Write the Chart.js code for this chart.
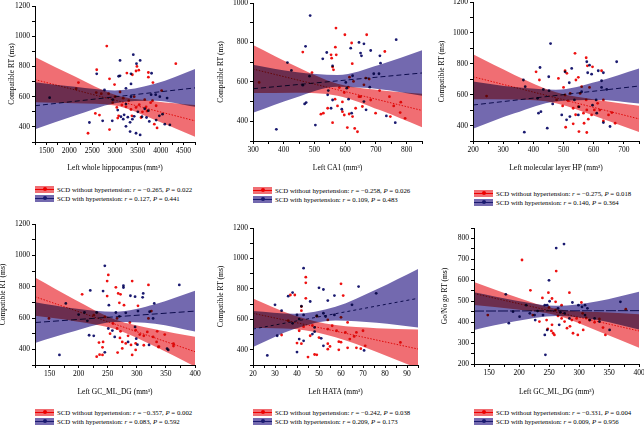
<!DOCTYPE html>
<html lang="en">
<head>
<meta charset="UTF-8">
<title>SCD subfield volume vs RT</title>
<script src="https://cdn.jsdelivr.net/npm/chart.js"></script>
<style>
  html, body { margin: 0; padding: 0; background: #fff; }
  body { width: 644px; height: 425px; position: relative; overflow: hidden; font-family: 'Liberation Serif', 'Times New Roman', serif; }
  canvas { position: absolute; }
  .legend { position: absolute; font-size: 6.8px; color: #000; white-space: nowrap; }
  .row { display: flex; align-items: center; height: 9px; }
  .sw { position: relative; display: inline-block; width: 19px; height: 7px; margin-right: 3px; }
  .sw.red { background: rgb(240, 110, 115); }
  .sw.blue { background: rgb(115, 105, 175); }
  .sw s { position: absolute; left: 0; right: 0; top: 3px; height: 1px; }
  .sw u { position: absolute; left: 7.5px; top: 1.5px; width: 4px; height: 4px; border-radius: 50%; }
  .sw.red s, .sw.red u { background: #e00; }
  .sw.blue s, .sw.blue u { background: #1a1a70; }
</style>
</head>
<body>
<script>
// ---- panel 1: left whole hippocampus vs compatible RT
const p1Red = [[2820,935],[4330,818],[2600,778],[3480,800],[3520,775],[3260,756],[2880,718],[3730,760],[3730,729],[3830,693],[2200,693],[2150,653],[2590,627],[2860,620],[2990,680],[3110,631],[4020,640],[3820,573],[3460,529],[3240,533],[3040,529],[3080,473],[3060,458],[2570,489],[2660,478],[2880,382],[2410,358],[3370,473],[3530,547],[3680,533],[3570,462],[3860,418],[3920,393],[3300,573],[3180,590],[2950,560],[3420,600],[3650,580],[3780,560],[3900,540],[3350,515],[3600,500],[3700,505],[3150,545],[3000,600],[2700,620],[3460,770],[3380,745]];
const p1Blue = [[1570,593],[2600,751],[3110,840],[3400,878],[3550,840],[3350,751],[3110,738],[3080,735],[3350,684],[3240,655],[2770,644],[3800,755],[3470,818],[3350,600],[3240,551],[2950,580],[3060,511],[3130,467],[3180,451],[3240,404],[3330,369],[3460,358],[3550,347],[3280,464],[3380,451],[3590,467],[3690,462],[3750,436],[3900,445],[3970,473],[4040,484],[4090,418],[4200,413],[3790,613],[3890,613],[3980,600],[4140,591],[3730,507],[3500,500],[3650,520],[2940,440],[2730,440],[2440,429],[3200,480],[3330,430],[3420,470]];
const p1BandX = [1250, 2125, 3000, 3875, 4750];
const p1RedHi = [863, 733, 613, 570, 545];
const p1RedLo = [563, 557, 541, 446, 335];
const p1BlueHi = [696, 665, 641, 685, 783];
const p1BlueLo = [384, 475, 557, 573, 533];
const p1RedLine = [713, 440];
const p1BlueLine = [540, 658];
const p1XLabels = [1500, 2000, 2500, 3000, 3500, 4000, 4500];
const p1Stats = ['\u22120.265', '0.022', '0.127', '0.441'];

// ---- panel 2: left CA1
const p2Red = [[320,597],[462,751],[492,647],[554,737],[568,776],[556,720],[571,737],[570,873],[599,839],[621,797],[623,692],[559,675],[562,661],[670,839],[729,754],[712,556],[744,525],[758,478],[779,444],[795,415],[747,424],[781,497],[667,619],[678,614],[661,585],[650,525],[656,475],[634,466],[624,424],[613,437],[607,368],[631,364],[640,347],[645,525],[683,508],[699,441],[567,512],[581,571],[597,546],[610,573],[591,498],[591,449],[597,432],[543,466],[529,441],[521,436],[559,393],[575,478],[614,624],[627,602]];
const p2Blue = [[486,936],[376,359],[503,381],[471,780],[468,488],[473,495],[484,629],[462,583],[412,698],[425,658],[527,717],[540,749],[559,681],[545,556],[559,508],[589,461],[611,512],[618,771],[645,800],[661,793],[650,746],[653,732],[683,759],[713,732],[715,695],[766,814],[680,573],[693,641],[710,641],[661,500],[668,458],[734,427],[763,393],[621,441],[602,597],[624,631],[605,568],[554,466],[543,534]];
const p2BandX = [300, 437.5, 575, 712.5, 850];
const p2RedHi = [787, 680, 590, 558, 540];
const p2RedLo = [543, 545, 530, 457, 370];
const p2BlueHi = [687, 650, 635, 687, 760];
const p2BlueLo = [443, 520, 575, 563, 530];
const p2RedLine = [665, 455];
const p2BlueLine = [565, 645];
const p2XLabels = [300, 400, 500, 600, 700, 800];
const p2Stats = ['\u22120.258', '0.026', '0.109', '0.483'];

// ---- panel 3: left molecular layer HP
const p3Red = [[245,591],[409,748],[420,695],[505,755],[511,738],[538,868],[575,839],[579,787],[549,712],[541,695],[626,755],[586,647],[560,652],[505,598],[477,566],[497,527],[532,512],[549,522],[566,480],[577,501],[593,469],[613,544],[632,566],[602,501],[649,469],[660,484],[582,441],[568,415],[532,411],[507,389],[551,361],[577,355],[632,430],[671,415],[522,608],[500,647],[483,705],[555,608],[575,566],[596,780],[515,560],[540,470],[620,500]];
const p3Blue = [[457,931],[370,357],[422,776],[367,695],[373,652],[414,576],[433,634],[451,716],[452,626],[417,480],[425,490],[446,383],[464,540],[494,469],[505,748],[519,677],[527,770],[560,619],[577,813],[586,791],[580,742],[593,733],[615,755],[632,742],[626,647],[643,634],[626,690],[676,813],[608,566],[536,566],[510,437],[521,458],[549,469],[632,419],[654,394],[610,480],[551,521],[596,532]];
const p3BandX = [200, 337.5, 475, 612.5, 750];
const p3RedHi = [861, 728, 615, 566, 528];
const p3RedLo = [571, 568, 545, 456, 358];
const p3BlueHi = [686, 649, 632, 685, 769];
const p3BlueLo = [380, 479, 556, 565, 543];
const p3RedLine = [716, 443];
const p3BlueLine = [533, 656];
const p3XLabels = [200, 300, 400, 500, 600, 700];
const p3Stats = ['\u22120.275', '0.018', '0.140', '0.364'];

// ---- panel 4: left GC_ML_DG vs compatible RT
const p4Red = [[251,875],[249,836],[292,836],[264,796],[206,751],[249,740],[268,757],[272,751],[149,597],[226,618],[245,607],[259,565],[266,533],[272,515],[271,473],[275,447],[285,486],[288,571],[298,522],[305,494],[312,486],[320,597],[325,644],[318,511],[328,479],[335,515],[348,494],[334,447],[320,811],[302,678],[278,682],[270,697],[266,597],[254,500],[242,447],[363,436],[337,415],[312,426],[235,443],[241,413],[267,379],[275,406],[281,438],[298,438],[298,396],[292,364],[231,353],[236,366],[241,364],[290,428],[338,417],[363,421]];
const p4Blue = [[245,933],[220,776],[178,693],[242,772],[252,682],[277,806],[277,794],[289,742],[297,736],[311,757],[310,732],[200,622],[210,635],[231,635],[215,582],[218,490],[226,486],[262,479],[251,533],[264,635],[281,633],[302,644],[322,640],[328,597],[330,693],[297,543],[299,468],[301,430],[352,404],[373,811],[285,447],[167,364],[245,381],[321,428],[354,396],[258,520],[270,610]];
const p4BandX = [125, 193.75, 262.5, 331.25, 400];
const p4RedHi = [858, 716, 590, 528, 480];
const p4RedLo = [614, 580, 530, 418, 290];
const p4BlueHi = [701, 661, 640, 688, 774];
const p4BlueLo = [441, 517, 574, 564, 514];
const p4RedLine = [736, 385];
const p4BlueLine = [571, 644];
const p4XLabels = [150, 200, 250, 300, 350, 400];
const p4Stats = ['\u22120.357', '0.002', '0.083', '0.592'];

// ---- panel 5: left HATA
const p5Red = [[44,877],[44,840],[37,760],[44,738],[42,684],[42,657],[49,620],[54,596],[60,833],[61,756],[60,613],[36,591],[33,497],[41,525],[43,552],[46,492],[54,536],[56,558],[58,525],[62,514],[63,580],[66,488],[67,514],[70,525],[71,426],[87,448],[64,470],[59,453],[54,404],[40,444],[42,440],[45,352],[48,369],[49,367],[54,440],[55,422],[60,450],[59,400],[63,413],[67,413],[69,407],[39,760],[47,560],[50,480]];
const p5Blue = [[30,695],[33,657],[38,776],[43,936],[36,752],[42,686],[40,629],[43,629],[41,602],[38,574],[31,492],[46,717],[50,807],[52,796],[57,756],[54,723],[52,640],[49,624],[53,618],[57,629],[65,695],[68,815],[76,771],[48,547],[48,519],[47,503],[43,459],[41,470],[51,475],[52,426],[26.5,363],[40,385],[70.5,396]];
const p5BandX = [20, 38.75, 57.5, 76.25, 95];
const p5RedHi = [737, 626, 562, 542, 533];
const p5RedLo = [543, 536, 482, 386, 277];
const p5BlueHi = [654, 636, 682, 797, 930];
const p5BlueLo = [418, 536, 592, 577, 546];
const p5RedLine = [640, 405];
const p5BlueLine = [536, 738];
const p5XLabels = [20, 30, 40, 50, 60, 70, 80, 90];
const p5Stats = ['\u22120.242', '0.038', '0.209', '0.173'];

// ---- panel 6: left GC_ML_DG vs Go/No go RT
const p6Red = [[205,697],[262,644],[219,552],[249,541],[255,513],[239,516],[261,497],[284,541],[261,458],[271,481],[148,434],[223,434],[234,403],[246,410],[248,368],[254,358],[255,387],[271,418],[276,403],[288,410],[296,418],[301,399],[304,494],[306,442],[317,410],[326,399],[334,415],[340,374],[344,339],[378,462],[257,347],[259,339],[290,347],[298,339],[307,363],[280,371],[265,430],[285,380],[312,420],[250,470]];
const p6Blue = [[262,754],[275,773],[250,600],[178,533],[183,395],[190,450],[201,426],[212,481],[218,442],[226,434],[227,410],[231,453],[240,434],[243,481],[247,481],[247,363],[243,339],[251,500],[265,466],[269,447],[276,442],[267,387],[289,494],[299,481],[305,473],[310,481],[314,466],[310,434],[318,410],[326,418],[334,403],[351,363],[369,497],[284,418],[244,244]];
const p6BandX = [125, 193.75, 262.5, 331.25, 400];
const p6RedHi = [592, 522, 463, 448, 438];
const p6RedLo = [482, 462, 433, 358, 278];
const p6BlueHi = [543, 504, 478, 500, 545];
const p6BlueLo = [363, 404, 430, 410, 365];
const p6RedLine = [537, 358];
const p6BlueLine = [453, 455];
const p6XLabels = [150, 200, 250, 300, 350, 400];
const p6Stats = ['\u22120.331', '0.004', '0.009', '0.956'];

const rtLabels = [400, 600, 800, 1000, 1200];
const goLabels = [200, 300, 400, 500, 600, 700, 800];

const panels = [
  { red: p1Red, blue: p1Blue, bandX: p1BandX, redHi: p1RedHi, redLo: p1RedLo, blueHi: p1BlueHi, blueLo: p1BlueLo, redLine: p1RedLine, blueLine: p1BlueLine,
    xRange: [1250, 4750], xStep: 250, xLabels: p1XLabels, yRange: [300, 1200], yStep: 100, yLabels: rtLabels,
    xTitle: 'Left whole hippocampus (mm\u00b3)', yTitle: 'Compatible RT (ms)', stats: p1Stats },
  { red: p2Red, blue: p2Blue, bandX: p2BandX, redHi: p2RedHi, redLo: p2RedLo, blueHi: p2BlueHi, blueLo: p2BlueLo, redLine: p2RedLine, blueLine: p2BlueLine,
    xRange: [300, 850], xStep: 50, xLabels: p2XLabels, yRange: [300, 1000], yStep: 100, yLabels: rtLabels,
    xTitle: 'Left CA1 (mm\u00b3)', yTitle: 'Compatible RT (ms)', stats: p2Stats },
  { red: p3Red, blue: p3Blue, bandX: p3BandX, redHi: p3RedHi, redLo: p3RedLo, blueHi: p3BlueHi, blueLo: p3BlueLo, redLine: p3RedLine, blueLine: p3BlueLine,
    xRange: [200, 750], xStep: 50, xLabels: p3XLabels, yRange: [300, 1200], yStep: 100, yLabels: rtLabels,
    xTitle: 'Left molecular layer HP (mm\u00b3)', yTitle: 'Compatible RT (ms)', stats: p3Stats },
  { red: p4Red, blue: p4Blue, bandX: p4BandX, redHi: p4RedHi, redLo: p4RedLo, blueHi: p4BlueHi, blueLo: p4BlueLo, redLine: p4RedLine, blueLine: p4BlueLine,
    xRange: [125, 400], xStep: 25, xLabels: p4XLabels, yRange: [300, 1200], yStep: 100, yLabels: rtLabels,
    xTitle: 'Left GC_ML_DG (mm\u00b3)', yTitle: 'Compatible RT (ms)', stats: p4Stats },
  { red: p5Red, blue: p5Blue, bandX: p5BandX, redHi: p5RedHi, redLo: p5RedLo, blueHi: p5BlueHi, blueLo: p5BlueLo, redLine: p5RedLine, blueLine: p5BlueLine,
    xRange: [20, 95], xStep: 5, xLabels: p5XLabels, yRange: [300, 1200], yStep: 100, yLabels: rtLabels,
    xTitle: 'Left HATA (mm\u00b3)', yTitle: 'Compatible RT (ms)', stats: p5Stats },
  { red: p6Red, blue: p6Blue, bandX: p6BandX, redHi: p6RedHi, redLo: p6RedLo, blueHi: p6BlueHi, blueLo: p6BlueLo, redLine: p6RedLine, blueLine: p6BlueLine,
    xRange: [125, 400], xStep: 25, xLabels: p6XLabels, yRange: [200, 850], yStep: 50, yLabels: goLabels,
    xTitle: 'Left GC_ML_DG (mm\u00b3)', yTitle: 'Go/No go RT (ms)', stats: p6Stats }
];

// where each plot area sits on the page
const layout = [
  { left: 35, right: 195, top: 6, bottom: 142, yPad: 8.5, xPad: 9.5, legX: 35, legY: 184.5, dash: [5, 3] },
  { left: 253, right: 422, top: 3, bottom: 141, yPad: 0, xPad: 8.5, legX: 253, legY: 185.5, dash: [5, 3] },
  { left: 473, right: 639, top: 2, bottom: 141, yPad: 0.5, xPad: 8.5, legX: 474, legY: 188.5, dash: [5, 3] },
  { left: 35, right: 195, top: 224, bottom: 365, yPad: 0, xPad: 8.5, legX: 35, legY: 407.5, dash: [6, 3] },
  { left: 253, right: 418, top: 228, bottom: 365, yPad: 0, xPad: 8.5, legX: 253, legY: 407.5, dash: [3, 3] },
  { left: 474, right: 639, top: 228, bottom: 364, yPad: 2.5, xPad: 7.5, legX: 474, legY: 407.5, dash: [10, 2] }
];

const FONT = { family: "'Liberation Serif', 'Times New Roman', serif", size: 7.5 };
const RED = '#ee1111';
const NAVY = '#1a1a70';
const RED_BAND = 'rgb(240, 110, 115)';
const BLUE_BAND = 'rgb(115, 105, 175)';

// bands overlap like ink: multiply them so the crossing turns dark purple
const multiplyBands = {
    id: 'multiplyBands',
    beforeDatasetsDraw(chart) { chart.ctx.globalCompositeOperation = 'multiply'; },
    afterDatasetsDraw(chart) { chart.ctx.globalCompositeOperation = 'source-over'; }
};

function tickValues(range, step) {
    const out = [];
    const n = Math.round((range[1] - range[0]) / step);
    for (let i = 0; i <= n; i++) out.push(range[0] + i * step);
    return out;
}

function axisOpts(range, step, labels, title, titlePad, fit) {
    return {
        type: 'linear', min: range[0], max: range[1],
        afterBuildTicks: s => { s.ticks = tickValues(range, step).map(v => ({ value: v })); },
        ticks: { autoSkip: false, maxRotation: 0, padding: 2, color: '#000', font: FONT,
                 callback: v => labels.includes(v) ? String(v) : '' },
        grid: { drawOnChartArea: false, drawTicks: true, tickLength: 3, color: '#000', lineWidth: 1 },
        border: { display: true, color: '#000', width: 1 },
        title: { display: true, text: title, color: '#000', font: FONT, padding: titlePad },
        afterFit: fit
    };
}

function buildPanel(p, L) {
    const W = 36, PAD_T = 8, PAD_R = 12, AXIS_H = 40;
    const cw = W + (L.right - L.left) + PAD_R;
    const ch = PAD_T + (L.bottom - L.top) + AXIS_H;
    const cv = document.createElement('canvas');
    cv.width = cw; cv.height = ch;
    cv.style.left = (L.left - W) + 'px';
    cv.style.top = (L.top - PAD_T) + 'px';
    cv.style.width = cw + 'px';
    cv.style.height = ch + 'px';
    document.body.appendChild(cv);

    const pts = arr => arr.map(([x, y]) => ({ x, y }));
    const curve = ys => p.bandX.map((x, i) => ({ x, y: ys[i] }));
    const seg = ys => p.xRange.map((x, i) => ({ x, y: ys[i] }));
    const band = { showLine: true, borderWidth: 0, borderColor: 'transparent', pointRadius: 0, cubicInterpolationMode: 'monotone' };

    new Chart(cv, {
        type: 'scatter',
        data: {
            datasets: [
                { data: pts(p.red), backgroundColor: RED, borderWidth: 0, pointRadius: 1.4 },
                { data: pts(p.blue), backgroundColor: NAVY, borderWidth: 0, pointRadius: 1.4 },
                { data: seg(p.redLine), showLine: true, borderColor: RED, borderWidth: 1, borderDash: [1.5, 1.5], pointRadius: 0 },
                { data: seg(p.blueLine), showLine: true, borderColor: NAVY, borderWidth: 1, borderDash: L.dash, pointRadius: 0 },
                Object.assign({ data: curve(p.blueHi), fill: '+1', backgroundColor: BLUE_BAND }, band),
                Object.assign({ data: curve(p.blueLo), fill: false }, band),
                Object.assign({ data: curve(p.redHi), fill: '+1', backgroundColor: RED_BAND }, band),
                Object.assign({ data: curve(p.redLo), fill: false }, band)
            ]
        },
        options: {
            responsive: false,
            animation: false,
            devicePixelRatio: 1,
            layout: { padding: { top: PAD_T, right: PAD_R, left: 0, bottom: 0 } },
            plugins: { legend: { display: false }, tooltip: { enabled: false } },
            scales: {
                x: axisOpts(p.xRange, p.xStep, p.xLabels, p.xTitle, { top: 0, bottom: L.xPad }, s => { s.height = AXIS_H; }),
                y: axisOpts(p.yRange, p.yStep, p.yLabels, p.yTitle, { top: L.yPad, bottom: 0 }, s => { s.width = W; })
            }
        },
        plugins: [multiplyBands]
    });
}

function buildLegend(p, L) {
    const d = document.createElement('div');
    d.className = 'legend';
    d.style.left = L.legX + 'px';
    d.style.top = L.legY + 'px';
    const row = (cls, name, r, pv) =>
        '<div class="row"><span class="sw ' + cls + '"><s></s><u></u></span><span>' + name +
        ': <i>r</i> = ' + r + ', <i>P</i> = ' + pv + '</span></div>';
    d.innerHTML = row('red', 'SCD without hypertension', p.stats[0], p.stats[1]) +
                  row('blue', 'SCD with hypertension', p.stats[2], p.stats[3]);
    document.body.appendChild(d);
}

panels.forEach((p, i) => {
    buildPanel(p, layout[i]);
    buildLegend(p, layout[i]);
});
</script>
</body>
</html>
